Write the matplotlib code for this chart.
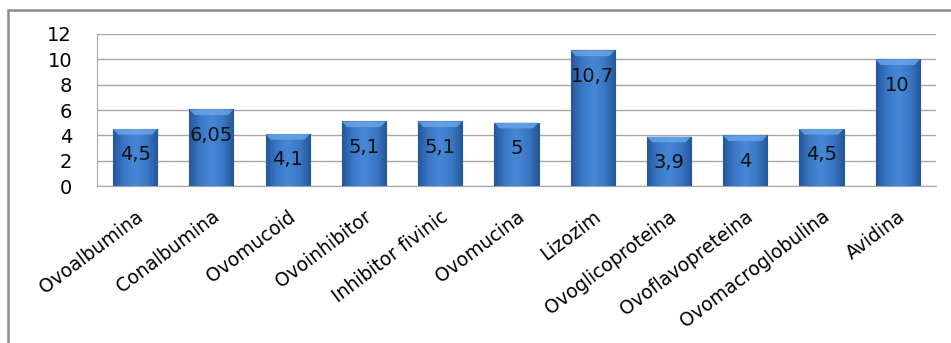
import numpy as np
import matplotlib
matplotlib.use("Agg")
import matplotlib.pyplot as plt
from matplotlib.patches import Rectangle
from matplotlib.colors import LinearSegmentedColormap

# Date
categorii = ["Ovoalbumina", "Conalbumina", "Ovomucoid", "Ovoinhibitor",
             "Inhibitor fivinic", "Ovomucina", "Lizozim", "Ovoglicoproteina",
             "Ovoflavopreteina", "Ovomacroglobulina", "Avidina"]
valori = [4.5, 6.05, 4.1, 5.1, 5.1, 5, 10.7, 3.9, 4, 4.5, 10]
etichete = ["4,5", "6,05", "4,1", "5,1", "5,1", "5", "10,7", "3,9", "4", "4,5", "10"]
yticks = [0, 2, 4, 6, 8, 10, 12]

plt.rcParams['font.family'] = ['DejaVu Sans']

fig = plt.figure(figsize=(9.51, 3.43), dpi=100)
ax = fig.add_axes([0.102, 0.4577, 0.882, 0.4432])

# chenar exterior (iese din imagine la dreapta si jos)
fig.patches.append(Rectangle((8 / 951, -0.2), 1.2, 1.2 - 10 / 343,
                             transform=fig.transFigure, fill=False,
                             edgecolor='#8c8c8c', linewidth=1.8))

x = np.arange(len(categorii))
w = 0.58
bars = ax.bar(x, valori, width=w, color='#3b79c6', edgecolor='#2a5a98',
              linewidth=0.8, zorder=3)

# gradient pe bare
cmap = LinearSegmentedColormap.from_list(
    'bara', ['#24569a', '#3a78c6', '#4788d6', '#3a78c6', '#24569a'])
grad = np.linspace(0, 1, 256).reshape(1, -1)
for b in bars:
    x0, y0 = b.get_x(), b.get_y()
    bw, bh = b.get_width(), b.get_height()
    im = ax.imshow(grad, extent=[x0, x0 + bw, y0, y0 + bh], cmap=cmap,
                   aspect='auto', zorder=3.5, interpolation='bicubic')
    im.set_clip_path(b)
    # bevel sus
    ax.add_patch(plt.Polygon([[x0, y0 + bh], [x0 + bw, y0 + bh],
                              [x0 + bw * 0.88, y0 + bh - 0.45],
                              [x0 + bw * 0.12, y0 + bh - 0.45]],
                             closed=True, color='#6aa6e8', alpha=0.8,
                             zorder=3.6, linewidth=0))

for xi, v, t in zip(x, valori, etichete):
    ax.annotate(t, (xi, v), xytext=(0, -18.5), textcoords='offset points',
                ha='center', va='center', fontsize=14, color='#111111',
                zorder=5)

ax.set_xlim(-0.5, len(categorii) - 0.5)
ax.set_ylim(0, 12)
ax.set_yticks(yticks)
ax.set_yticklabels([str(v) for v in yticks], fontsize=14)
ax.grid(axis='y', color='#a6a6a6', linewidth=1.0, zorder=0)
ax.set_axisbelow(True)
ax.tick_params(axis='y', length=0, pad=18)
ax.tick_params(axis='x', length=0, pad=15)
ax.set_xticks(x)
ax.set_xticklabels(categorii, rotation=37, ha='right', rotation_mode='anchor',
                   fontsize=13.5)
for s in ['top', 'right']:
    ax.spines[s].set_visible(False)
ax.spines['left'].set_color('#a6a6a6')
ax.spines['bottom'].set_color('#a6a6a6')

fig.savefig("out.png", dpi=100)
